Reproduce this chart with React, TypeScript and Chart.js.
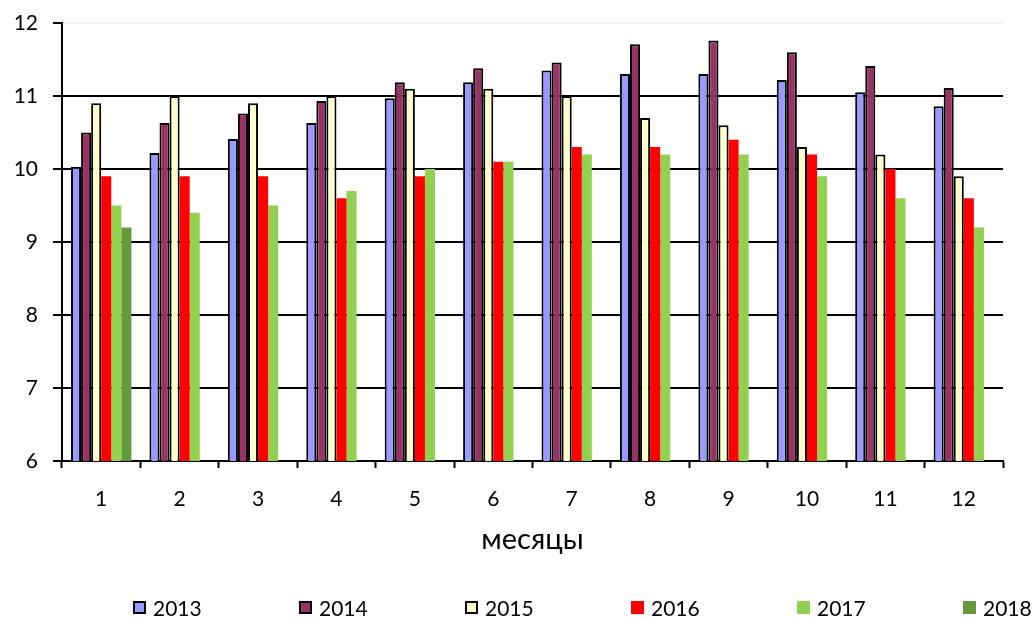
import React, { useEffect, useRef } from "react";
import { Chart, registerables } from "chart.js";

Chart.register(...registerables);

const months = ["1", "2", "3", "4", "5", "6", "7", "8", "9", "10", "11", "12"];
const years = ["2013", "2014", "2015", "2016", "2017", "2018"];
const s2013 = [10.03, 10.22, 10.41, 10.63, 10.97, 11.19, 11.35, 11.3, 11.3, 11.22, 11.05, 10.86];
const s2014 = [10.5, 10.63, 10.76, 10.93, 11.19, 11.38, 11.46, 11.71, 11.76, 11.6, 11.41, 11.11];
const s2015 = [10.9, 11.0, 10.9, 11.0, 11.1, 11.1, 11.0, 10.7, 10.6, 10.3, 10.2, 9.9];
const s2016 = [9.9, 9.9, 9.9, 9.6, 9.9, 10.1, 10.3, 10.3, 10.4, 10.2, 10.0, 9.6];
const s2017 = [9.5, 9.4, 9.5, 9.7, 10.0, 10.1, 10.2, 10.2, 10.2, 9.9, 9.6, 9.2];
const s2018 = [9.2, null, null, null, null, null, null, null, null, null, null, null];
const seriesValues = [s2013, s2014, s2015, s2016, s2017, s2018];
const colors = ["#9999FF", "#993366", "#FFFFCC", "#FF0000", "#92D050", "#649A3C"];
const bordered = [true, true, true, false, false, false];
const xTitle = "месяцы";

const FONT = "Lato, 'Noto Sans', sans-serif";

export default function App() {
  const ref = useRef<HTMLCanvasElement | null>(null);

  useEffect(() => {
    if (!ref.current) return;
    const chart = new Chart(ref.current, {
      type: "bar",
      data: {
        labels: months,
        datasets: years.map((y, i) => ({
          label: y,
          data: seriesValues[i],
          backgroundColor: colors[i],
          borderColor: "#000000",
          borderWidth: bordered[i] ? 2 : 0,
          categoryPercentage: 0.77,
          barPercentage: 1.0,
        })),
      },
      options: {
        animation: false,
        responsive: false,
        devicePixelRatio: 1,
        layout: { padding: { left: 0, right: 31, top: 23, bottom: 56 } },
        plugins: {
          legend: { display: false },
          tooltip: { enabled: false },
        },
        scales: {
          x: {
            offset: true,
            grid: {
              offset: true,
              drawOnChartArea: false,
              drawTicks: true,
              tickLength: 7,
              tickColor: "#000000",
              tickWidth: 2,
            },
            border: { display: true, color: "#000000", width: 2 },
            ticks: {
              color: "#000000",
              padding: 19,
              font: { family: FONT, size: 21 },
              maxRotation: 0,
            },
            title: {
              display: true,
              text: xTitle,
              color: "#000000",
              font: { family: FONT, size: 29 },
              padding: { top: 0, bottom: 4 },
            },
            afterFit: (scale: any) => {
              scale.height = 100;
              scale.paddingLeft = 0;
              scale.paddingRight = 0;
            },
          },
          y: {
            min: 6,
            max: 12,
            ticks: {
              stepSize: 1,
              color: "#000000",
              padding: 15,
              font: { family: FONT, size: 21 },
            },
            grid: {
              color: (ctx: any) => (ctx.tick && ctx.tick.value === 12 ? "#F2F2F2" : "#000000"),
              lineWidth: 2,
              drawTicks: true,
              tickLength: 9,
              tickColor: "#000000",
              tickWidth: 2,
            },
            border: { display: true, color: "#000000", width: 2 },
            afterFit: (scale: any) => {
              scale.width = 62;
              scale.paddingTop = 0;
              scale.paddingBottom = 0;
            },
          },
        },
      },
    });
    return () => chart.destroy();
  }, []);

  return (
    <div
      style={{
        position: "absolute",
        left: 0,
        top: 0,
        width: 1034,
        height: 617,
        background: "#ffffff",
        overflow: "hidden",
      }}
    >
      <canvas ref={ref} width={1034} height={617} style={{ display: "block" }} />
      <div
        style={{
          position: "absolute",
          left: 133,
          top: 597,
          display: "flex",
          fontFamily: FONT,
          fontSize: 21,
          lineHeight: "21px",
          color: "#000000",
        }}
      >
        {years.map((y, i) => (
          <div key={y} style={{ width: 166, display: "flex", alignItems: "center" }}>
            <span
              style={{
                display: "inline-block",
                width: 13,
                height: 13,
                boxSizing: "border-box",
                background: colors[i],
                border: bordered[i] ? "2px solid #000000" : "none",
                marginRight: 7,
              }}
            />
            <span>{y}</span>
          </div>
        ))}
      </div>
    </div>
  );
}
